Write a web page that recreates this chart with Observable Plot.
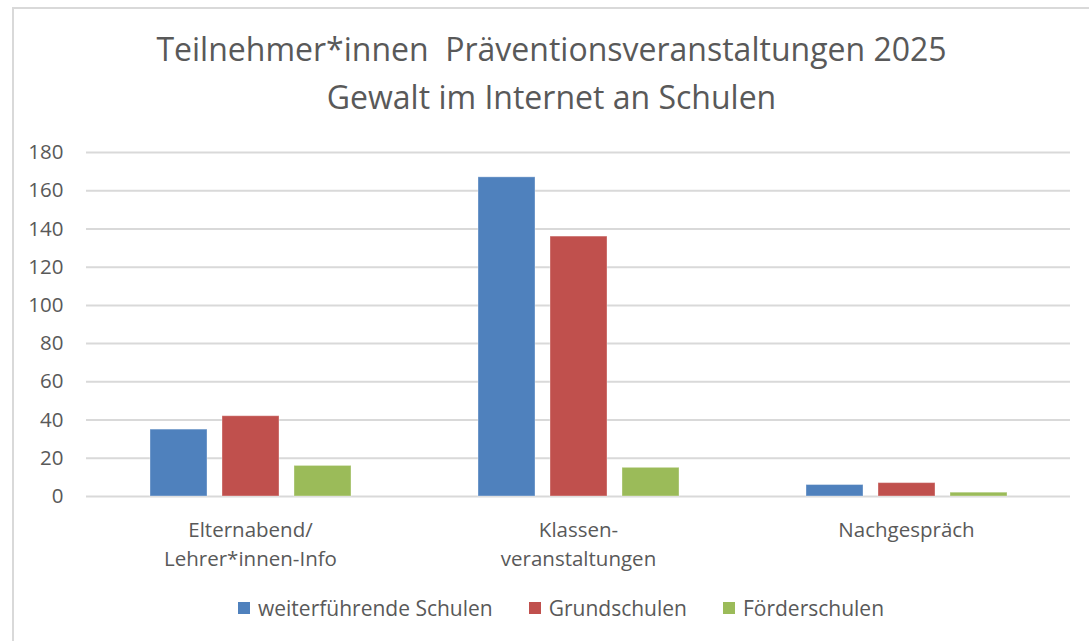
<!DOCTYPE html>
<html><head><meta charset="utf-8">
<script src="https://cdn.jsdelivr.net/npm/d3@7"></script>
<script src="https://cdn.jsdelivr.net/npm/@observablehq/plot@0.6"></script>
<style>
html,body{margin:0;padding:0;background:#fff;font-family:"Open Sans",sans-serif;}
#wrap{position:relative;width:1089px;height:641px;overflow:hidden;}
#frame{position:absolute;left:12px;top:7px;width:1100px;height:700px;border-top:2px solid #d9d9d9;border-left:2px solid #d9d9d9;}
#title{position:absolute;left:14px;width:1075px;top:25px;text-align:center;color:#595959;font-size:32px;line-height:48px;}
#chart{position:absolute;left:0;top:130px;}
#legend{position:absolute;top:596px;left:238px;display:flex;align-items:center;color:#595959;font-size:21px;line-height:24px;}
#legend .item{display:flex;align-items:center;margin-right:36px;}
#legend .sw{width:12px;height:12px;margin-right:8px;}
</style>
</head><body>
<div id="wrap">
<div id="frame"></div>
<div id="title"></div>
<div id="chart"></div>
<div id="legend"></div>
</div>
<script>
const titleLines = ["Teilnehmer*innen\u00a0 Präventionsveranstaltungen 2025", "Gewalt im Internet an Schulen"];
const categories = ["Elternabend/\nLehrer*innen-Info", "Klassen-\nveranstaltungen", "Nachgespräch"];
const series = ["weiterführende Schulen", "Grundschulen", "Förderschulen"];
const weiterfuehrendeSchulen = [35, 167, 6];
const grundschulen = [42, 136, 7];
const foerderschulen = [16, 15, 2];
const yTicks = [0, 20, 40, 60, 80, 100, 120, 140, 160, 180];
const colors = ["#4F81BD", "#C0504D", "#9BBB59"];

document.getElementById("title").innerHTML = titleLines.map(t => `<div>${t}</div>`).join("");

const seriesValues = [weiterfuehrendeSchulen, grundschulen, foerderschulen];
const data = [];
categories.forEach((c, i) => series.forEach((s, j) => data.push({cat: c, series: s, value: seriesValues[j][i]})));

const chart = Plot.plot({
  width: 1089,
  height: 450,
  marginTop: 22,
  marginBottom: 84,
  marginLeft: 86,
  marginRight: 19,
  style: {fontFamily: "Open Sans, sans-serif", color: "#595959", background: "transparent"},
  fx: {domain: categories, paddingInner: 0, paddingOuter: 0, label: null},
  x: {domain: series, paddingInner: 0.21, paddingOuter: 0.875, axis: null},
  y: {domain: [0, 180], axis: null},
  color: {domain: series, range: colors},
  marks: [
    Plot.ruleY(yTicks, {stroke: "#d9d9d9", strokeWidth: 2}),
    Plot.barY(data, {fx: "cat", x: "series", y: "value", fill: "series", stroke: "#ffffff", strokeOpacity: 0.35, strokeWidth: 1}),
    Plot.axisY({ticks: yTicks, tickSize: 0, tickPadding: 23, fontSize: 20.5, label: null}),
    Plot.axisFx({anchor: "bottom", tickSize: 0, tickPadding: 19, fontSize: 20.5, lineHeight: 1.45, label: null})
  ]
});
document.getElementById("chart").appendChild(chart);

const legend = document.getElementById("legend");
series.forEach((s, i) => {
  const item = document.createElement("div");
  item.className = "item";
  item.innerHTML = `<span class="sw" style="background:${colors[i]}"></span><span>${s}</span>`;
  legend.appendChild(item);
});
</script>
</body></html>
